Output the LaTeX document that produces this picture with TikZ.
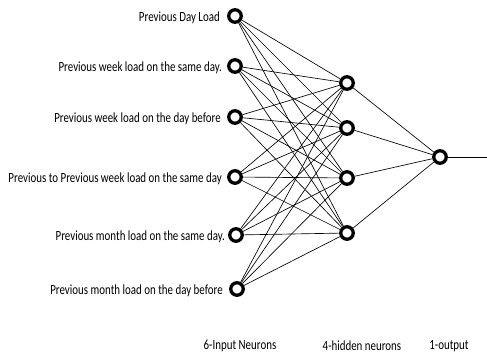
\documentclass[tikz,border=0pt]{standalone}
\usepackage{fontspec}
\newfontfamily\labfont[FakeStretch=0.78]{Carlito}
\begin{document}
\begin{tikzpicture}[x=1pt,y=-1pt,
  neuron/.style={circle,draw=black,line width=3.3pt,minimum size=12.5pt,inner sep=0pt,fill=white},
  lab/.style={font=\labfont\fontsize{14}{16}\selectfont,anchor=east,inner sep=0pt},
  conn/.style={line width=0.65pt,black}]
\useasboundingbox (0,0) rectangle (487,358);
% input neurons
\node[neuron] (i1) at (235,16) {};
\node[neuron] (i2) at (235,66) {};
\node[neuron] (i3) at (235,117) {};
\node[neuron] (i4) at (235,177) {};
\node[neuron] (i5) at (236,235) {};
\node[neuron] (i6) at (237,289) {};
% hidden neurons
\node[neuron] (h1) at (347,83) {};
\node[neuron] (h2) at (347,128) {};
\node[neuron] (h3) at (347,178) {};
\node[neuron] (h4) at (347,233) {};
% output
\node[neuron] (o) at (440,157) {};
\coordinate (oend) at (487,157);
% connections
\foreach \i in {1,...,6}{
  \foreach \h in {1,...,4}{
    \draw[conn] (i\i) -- (h\h);
  }
}
\foreach \h in {1,...,4}{
  \draw[conn] (h\h) -- (o);
}
\draw[conn,line width=0.9pt] (o) -- (oend);
% labels
\node[lab] (l1) at (220,18) {Previous Day Load};
\node[lab] (l2) at (222,68) {Previous week load on the same day.};
\node[lab] (l3) at (221,119) {Previous week load on the day before};
\node[lab] (l4) at (222,179) {Previous to Previous week load on the same day};
\node[lab] (l5) at (225,237) {Previous month load on the same day.};
\node[lab] (l6) at (223,291) {Previous month load on the day before};
% layer captions
\node[lab,anchor=center] (c1) at (240,346) {6-Input Neurons};
\node[lab,anchor=center] (c2) at (362,346) {4-hidden neurons};
\node[lab,anchor=center] (c3) at (449,346) {1-output};
\end{tikzpicture}
\end{document}
